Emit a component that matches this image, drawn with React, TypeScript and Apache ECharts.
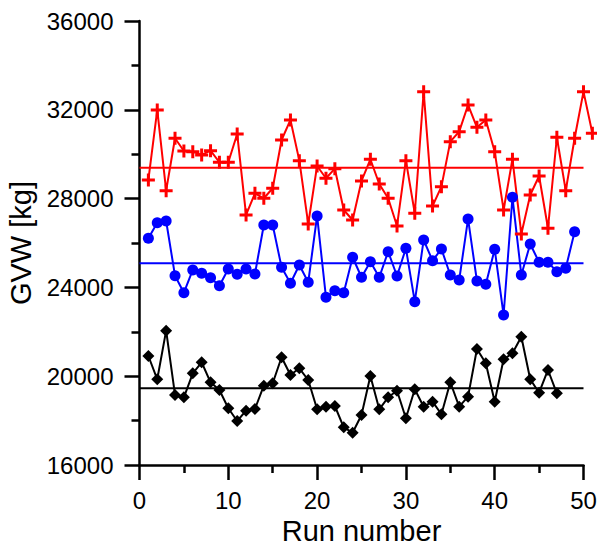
import React, { useEffect, useRef } from "react";
import * as echarts from "echarts";

// GVW per run
const redValues = [
  28839, 31993, 28357, 30718, 30146, 30114, 29966, 30159, 29637, 29637,
  30912, 27263, 28240, 28015, 28465, 30641, 31542, 29709, 26857, 29470,
  28916, 29348, 27488, 27037, 28794, 29772, 28659, 28015, 26767, 29709,
  27339, 32817, 27668, 28537, 30565, 31015, 32218, 31213, 31542, 30114,
  27488, 29772, 26407, 28164, 29019, 26663, 30763, 28357, 30718, 32817,
  30943,
];
const blueValues = [
  26213, 26916, 26992, 24528, 23762, 24785, 24636, 24438, 24078, 24830,
  24591, 24830, 24605, 26812, 26812, 24906, 24186, 25010, 24231, 27217,
  23555, 23852, 23762, 25357, 24456, 25159, 24456, 25609, 24514, 25762,
  23357, 26136, 25204, 25731, 24560, 24334, 27082, 24289, 24141, 25717,
  22758, 28060, 24560, 25956, 25132, 25132, 24708, 24861, 26510,
];
const blackValues = [
  20910, 19861, 22050, 19154, 19050, 20131, 20627, 19726, 19379, 18554,
  17982, 18446, 18523, 19572, 19681, 20852, 20055, 20356, 19829, 18509,
  18626, 18658, 17698, 17455, 18253, 20009, 18509, 19050, 19347, 18104,
  19410, 18626, 18852, 18284, 19726, 18626, 19077, 21226, 20582, 18852,
  20762, 21032, 21780, 19861, 19257, 20280, 19230,
];
const meanValues = [29394, 25087, 19455];
const seriesColors = ["#ff0000", "#0000ff", "#000000"];
const xRange = [0, 50];
const yRange = [16000, 36000];

const PLUS = "path://M5,0h3v5h5v3h-5v5h-3v-5h-5v-3h5z";
const FONT = "'Liberation Sans', Arial, sans-serif";

const W = 597;
const GRID_LEFT = 139.5;
const GRID_RIGHT = 13.5;

const toPoints = (vals: number[]) => vals.map((v, i) => [i + 1, v]);

export default function App() {
  const ref = useRef<HTMLDivElement>(null);
  useEffect(() => {
    if (!ref.current) return;
    const chart = echarts.init(ref.current, null, { renderer: "svg" });
    const axisCommon = {
      axisLine: { show: true, lineStyle: { color: "#000", width: 2.5 } },
      axisTick: { show: true, inside: false, length: 15, lineStyle: { color: "#000", width: 2.5 } },
      minorTick: { show: true, splitNumber: 2, length: 8, lineStyle: { color: "#000", width: 2.5 } },
      splitLine: { show: false },
      minorSplitLine: { show: false },
      nameTextStyle: { fontFamily: FONT, fontSize: 29, color: "#000" },
    };
    const labelBase = {
      fontFamily: FONT,
      fontSize: 24,
      color: "#000",
      formatter: (v: number) => String(v),
    };
    // an unclipped twin of the plot area that reaches the right edge of the page,
    // so the last red run (past the axis end) is still joined by its line
    const wideMax =
      xRange[0] + ((xRange[1] - xRange[0]) * (W - GRID_LEFT)) / (W - GRID_LEFT - GRID_RIGHT);
    const dataSeries = [redValues, blueValues, blackValues].map((vals, k) => ({
      type: "line",
      data: toPoints(vals),
      xAxisIndex: k === 0 ? 1 : 0,
      yAxisIndex: k === 0 ? 1 : 0,
      clip: false,
      symbol: k === 0 ? PLUS : k === 1 ? "circle" : "diamond",
      symbolSize: k === 0 ? 13 : k === 1 ? 11 : 12,
      itemStyle: { color: seriesColors[k] },
      lineStyle: { color: seriesColors[k], width: 2 },
      z: 3,
    }));
    const meanSeries = meanValues.map((m, k) => ({
      type: "line",
      data: [
        [xRange[0], m],
        [xRange[1], m],
      ],
      showSymbol: false,
      symbol: "none",
      lineStyle: { color: seriesColors[k], width: 2 },
      z: 2,
    }));
    chart.setOption({
      animation: false,
      grid: [
        {
          left: GRID_LEFT,
          top: 21,
          right: GRID_RIGHT,
          bottom: 82,
          containLabel: false,
          outerBoundsMode: "none",
        },
        {
          left: GRID_LEFT,
          top: 21,
          right: 0,
          bottom: 82,
          containLabel: false,
          outerBoundsMode: "none",
        },
      ],
      xAxis: [
        {
          type: "value",
          gridIndex: 0,
          min: xRange[0],
          max: xRange[1],
          interval: 10,
          name: "Run number",
          nameLocation: "middle",
          nameGap: 49,
          axisLabel: { ...labelBase, margin: 23 },
          ...axisCommon,
        },
        { type: "value", gridIndex: 1, min: xRange[0], max: wideMax, show: false },
      ],
      yAxis: [
        {
          type: "value",
          gridIndex: 0,
          min: yRange[0],
          max: yRange[1],
          interval: 4000,
          name: "GVW [kg]",
          nameLocation: "middle",
          nameGap: 85,
          axisLabel: { ...labelBase, margin: 26 },
          ...axisCommon,
        },
        { type: "value", gridIndex: 1, min: yRange[0], max: yRange[1], show: false },
      ],
      series: [...meanSeries, ...dataSeries],
    });
    return () => chart.dispose();
  }, []);
  return (
    <div
      ref={ref}
      style={{ position: "fixed", left: 0, top: 0, width: W, height: 547, background: "#fff" }}
    />
  );
}
